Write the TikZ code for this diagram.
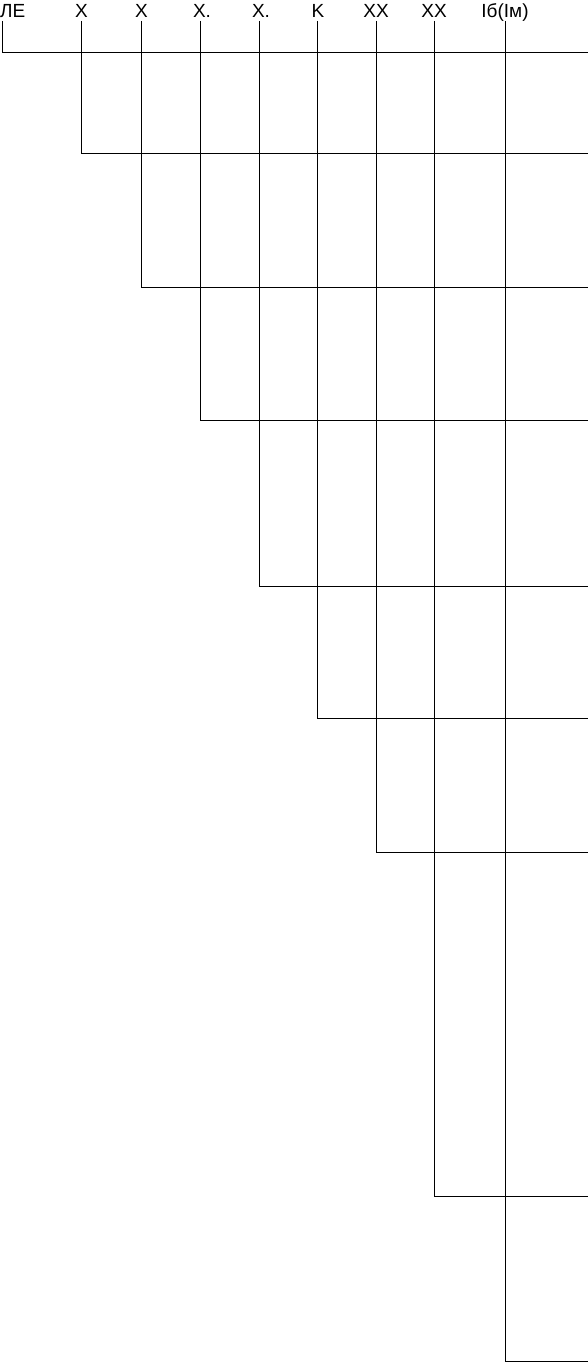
\documentclass[tikz,border=0pt]{standalone}
\usepackage{fontspec}
\setmainfont{Liberation Sans}
\usetikzlibrary{positioning}

\begin{document}
\begin{tikzpicture}[x=1pt,y=-1pt, lbl/.style={font=\fontsize{19}{21}\selectfont, inner sep=0pt, text depth=0pt, anchor=south}, wire/.style={line width=0.8pt}]
		\useasboundingbox (0,0) rectangle (588,1362);
		% column heads
		\node (le) [lbl,anchor=south west] at (0,18) {ЛЕ};
		\node (xa) [lbl] at (81.5,18) {X};
		\node (xb) [lbl] at (141.5,18) {X};
		\node (xc) [lbl] at (202,18) {X.};
		\node (xd) [lbl] at (261,18) {X.};
		\node (k) [lbl] at (318,18) {K};
		\node (xxa) [lbl] at (376,18) {XX};
		\node (xxb) [lbl] at (434,18) {XX};
		\node (ib) [lbl] at (505,18) {Iб(Iм)};
		% line tops
		\coordinate (le top) at (2,21);
		\coordinate (xa top) at (81.5,21);
		\coordinate (xb top) at (141.5,21);
		\coordinate (xc top) at (200,21);
		\coordinate (xd top) at (259,21);
		\coordinate (k top) at (317.5,21);
		\coordinate (xxa top) at (376,21);
		\coordinate (xxb top) at (434,21);
		\coordinate (ib top) at (505,21);
		% right ends
		\coordinate (le end) at (588,52);
		\coordinate (xa end) at (588,153);
		\coordinate (xb end) at (588,287);
		\coordinate (xc end) at (588,420);
		\coordinate (xd end) at (588,586);
		\coordinate (k end) at (588,718);
		\coordinate (xxa end) at (588,852);
		\coordinate (xxb end) at (588,1196);
		\coordinate (ib end) at (588,1361);
		\draw[wire] (le top) |- (le end);
		\draw[wire] (xa top) |- (xa end);
		\draw[wire] (xb top) |- (xb end);
		\draw[wire] (xc top) |- (xc end);
		\draw[wire] (xd top) |- (xd end);
		\draw[wire] (k top) |- (k end);
		\draw[wire] (xxa top) |- (xxa end);
		\draw[wire] (xxb top) |- (xxb end);
		\draw[wire] (ib top) |- (ib end);
	\end{tikzpicture}
\end{document}
